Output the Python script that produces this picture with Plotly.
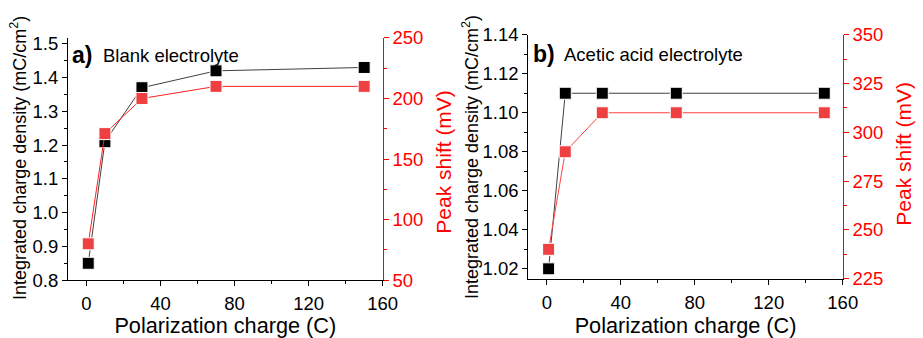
import plotly.graph_objects as go

# Polarization charge (C)
charge = [1, 10, 30, 70, 150]

# Panel a) blank electrolyte
blank_density = [0.85, 1.21, 1.37, 1.42, 1.43]      # mC/cm2
blank_shift = [80, 171, 200, 210, 210]              # mV

# Panel b) acetic acid electrolyte
acetic_density = [1.02, 1.11, 1.11, 1.11, 1.11]     # mC/cm2
acetic_shift = [240, 290, 310, 310, 310]            # mV

FONT = "Liberation Sans, Arial, sans-serif"
RED = "#ff0000"
MARK_RED = "#ee4040"
W, H = 923, 338

fig = go.Figure()


def series(x, y, xa, ya, mcolor, lcolor):
    fig.add_trace(go.Scatter(
        x=x, y=y, xaxis=xa, yaxis=ya, mode="lines+markers",
        line=dict(color=lcolor, width=1),
        marker=dict(symbol="square", size=12, color=mcolor,
                    line=dict(color="white", width=1)),
        showlegend=False, hoverinfo="skip"))


series(charge, blank_density, "x", "y", "black", "#404040")
series(charge, blank_shift, "x", "y2", MARK_RED, "#ff2020")
series(charge, acetic_density, "x2", "y3", "black", "#404040")
series(charge, acetic_shift, "x2", "y4", MARK_RED, "#ff4040")

TICK_SIZE = 18.5
tickfont = dict(family=FONT, size=TICK_SIZE, color="black")
redfont = dict(family=FONT, size=TICK_SIZE, color=RED)


def xax(domain, anchor, standoff):
    return dict(domain=domain, anchor=anchor, range=[-10, 160], dtick=40, tick0=0,
                showgrid=False, zeroline=False, showline=True, linecolor="black",
                linewidth=1, ticks="outside", ticklen=5, tickcolor="black",
                tickfont=tickfont, ticklabelstandoff=2,
                title=dict(text="Polarization charge (C)", standoff=standoff,
                           font=dict(family=FONT, size=21.7, color="black")),
                minor=dict(ticks="outside", ticklen=3, dtick=20, tickcolor="black",
                           showgrid=False))


def topax(domain, overlay, anchor):
    return dict(domain=domain, overlaying=overlay, anchor=anchor, side="top",
                range=[-10, 160], dtick=20, tick0=0, showgrid=False, zeroline=False,
                showline=True, linecolor="black", linewidth=1, ticks="inside",
                ticklen=4, tickcolor="black", showticklabels=False)


def yleft(domain, anchor, rng, dtick, fmt):
    return dict(domain=domain, anchor=anchor, range=rng, dtick=dtick, tick0=0,
                tickformat=fmt,
                showgrid=False, zeroline=False, showline=True, linecolor="black",
                linewidth=1, ticks="outside", ticklen=5, tickcolor="black",
                tickfont=tickfont,
                minor=dict(ticks="outside", ticklen=3, dtick=dtick / 2,
                           tickcolor="black", showgrid=False))


def yright(overlay, anchor, rng, dtick):
    return dict(overlaying=overlay, anchor=anchor, side="right", range=rng,
                dtick=dtick, tick0=0, showgrid=False, zeroline=False, showline=True,
                linecolor=RED, linewidth=1, ticks="outside", ticklen=5,
                tickcolor=RED, tickfont=redfont,
                minor=dict(ticks="outside", ticklen=3, dtick=dtick / 2,
                           tickcolor=RED, showgrid=False))


dom_a_x = [69 / W, 389 / W]
dom_b_x = [537 / W, 856.7 / W]
dom_a_y = [1 - 287 / H, 1 - 28.7 / H]
dom_b_y = [1 - 285.3 / H, 1 - 25.3 / H]

fig.update_layout(
    width=W, height=H, margin=dict(l=0, r=0, t=0, b=0),
    paper_bgcolor="white", plot_bgcolor="white",
    xaxis=xax(dom_a_x, "y", 8),
    xaxis2=xax(dom_b_x, "y3", 8),
    xaxis3=topax(dom_a_x, "x", "y"),
    xaxis4=topax(dom_b_x, "x2", "y3"),
    yaxis=yleft(dom_a_y, "x", [0.8, 1.5175], 0.1, ".1f"),
    yaxis2=yright("y", "x", [50, 250], 50),
    yaxis3=yleft(dom_b_y, "x2", [1.015, 1.14], 0.02, ".2f"),
    yaxis4=yright("y3", "x2", [225, 350], 25),
)

# Axis titles and panel labels
ann = []


def text(x, y, s, size, color="black", angle=0, xanchor="center", yanchor="middle"):
    ann.append(dict(x=x / W, y=1 - y / H, xref="paper", yref="paper", text=s,
                    showarrow=False, textangle=angle, xanchor=xanchor,
                    yanchor=yanchor, borderpad=0,
                    font=dict(family=FONT, size=size, color=color)))


text(19, 157, "Integrated charge density (mC/cm<sup>2</sup>)", 18, angle=-90)
text(479, 155.5, "Integrated charge density (mC/cm<sup>2</sup>)", 18, angle=-90)
text(451, 161, "Peak shift (mV)", 21, color=RED, angle=-90)
text(918, 152, "Peak shift (mV)", 21, color=RED, angle=-90)
text(72, 47, "<b>a)</b>", 23, xanchor="left")
text(104, 47, "Blank electrolyte", 18.5, xanchor="left")
text(541, 46, "<b>b)</b>", 23, xanchor="left")
text(572, 46, "Acetic acid electrolyte", 18.5, xanchor="left")
fig.update_layout(annotations=ann)

fig.write_html("out.html")
